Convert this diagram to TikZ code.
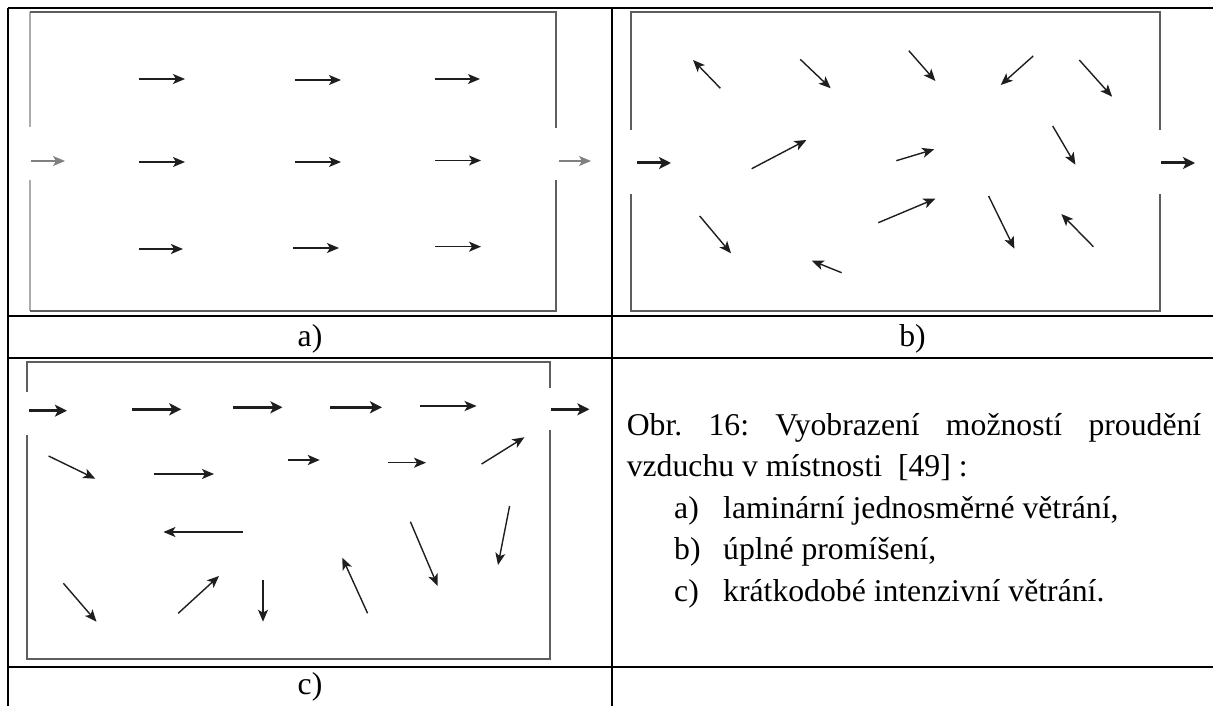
\documentclass[tikz,border=0pt]{standalone}
\usepackage{fontspec}
\setmainfont{Liberation Serif}
\usetikzlibrary{arrows.meta}
\definecolor{wallgray}{HTML}{5E5E5E}
\definecolor{walllight}{HTML}{ABABAB}
\definecolor{flowink}{HTML}{1E1E1E}
\frenchspacing

\begin{document}
\begin{tikzpicture}[
    x=1pt, y=-1pt,
    rule/.style={black, line width=2pt},
    wall/.style={wallgray, line width=2pt},
    flow/.style={-{Stealth[length=12pt, width=10pt, inset=3pt]}, flowink, line width=1.4pt},
    jet/.style={-{Stealth[length=12pt, width=12pt, inset=3pt]}, flowink, line width=3pt},
    tag/.style={font=\fontsize{31.7}{41.5}\selectfont, inner sep=0pt, anchor=base west}
  ]
    \useasboundingbox (0,0) rectangle (1213,706);

    % table
    \draw[rule] (8,8.3) -- (1213,8.3);
    \draw[rule] (8,316) -- (1213,316);
    \draw[rule] (8,357.7) -- (1213,357.7);
    \draw[rule] (8,666.7) -- (1213,666.7);
    \draw[rule] (8,8.3) -- (8,706);
    \draw[rule] (611.7,8.3) -- (611.7,706);

    % a) laminar
    \draw[walllight, line width=2pt] (29.6,127) -- (29.6,12);
    \draw[walllight, line width=2pt] (29.6,180) -- (29.6,310.7);
    \draw[wall] (29.6,12) -- (555.5,12) -- (555.5,128);
    \draw[wall] (29.6,310.7) -- (555.5,310.7) -- (555.5,180);
    \draw[flow, draw=gray] (31,161) -- (65,161);
    \draw[flow] (139,79) -- (185,79);
    \draw[flow] (295,80) -- (341,80);
    \draw[flow] (435,79) -- (480,79);
    \draw[flow] (139,162) -- (185,162);
    \draw[flow] (295,162) -- (341,162);
    \draw[flow] (435,160.5) -- (481,160.5);
    \draw[flow, line width=2.2pt] (139,249) -- (183,249);
    \draw[flow] (293,248) -- (339,248);
    \draw[flow] (435,246.7) -- (481,246.7);
    \draw[flow, draw=gray] (559,161) -- (591,161);
    \node[tag, anchor=base] (lbla) at (310,346) {a)};

    % b) full mixing
    \draw[wall] (631.3,130) -- (631.3,12) -- (1159.8,12) -- (1159.8,130);
    \draw[wall] (631.3,194) -- (631.3,310.7) -- (1159.8,310.7) -- (1159.8,194);
    \draw[jet] (637,163) -- (671,163);
    \draw[flow] (720.4,88.3) -- (693,60);
    \draw[flow] (800.2,59.3) -- (830.7,88.3);
    \draw[flow] (908.8,50.7) -- (935.4,81);
    \draw[flow] (1033.2,56) -- (1000.7,85);
    \draw[flow] (1079.3,60) -- (1112.1,96.7);
    \draw[flow] (1052.7,126) -- (1075.4,164.7);
    \draw[flow] (751.7,168.7) -- (806.4,140);
    \draw[flow] (896.3,160.7) -- (934.2,149.3);
    \draw[flow] (878.3,222.7) -- (935.4,198.7);
    \draw[flow] (988.6,196) -- (1014.4,248.7);
    \draw[flow] (1093.4,246.7) -- (1061.3,214);
    \draw[flow] (699.7,216) -- (731,253.3);
    \draw[flow] (841.6,272.7) -- (811.9,260.7);
    \draw[jet] (1161,163) -- (1195,163);
    \node[tag, anchor=base] (lblb) at (912.5,346) {b)};

    % c) short intensive
    \draw[wall] (27.2,391.7) -- (27.2,361.7) -- (549.7,361.7) -- (549.7,388);
    \draw[wall] (27.2,435) -- (27.2,659.3) -- (549.7,659.3) -- (549.7,430);
    \draw[jet] (29.2,410.7) -- (66.9,410.7);
    \draw[jet] (131.5,409.3) -- (181.3,409.3);
    \draw[jet] (233.4,407.3) -- (282.4,407.3);
    \draw[jet] (329.9,407.3) -- (382,407.3);
    \draw[flow, line width=2.2pt] (420.2,406) -- (476.6,406);
    \draw[jet, line width=2.4pt] (550.5,409.3) -- (589.4,409.3);
    \draw[flow] (48.6,456) -- (95.3,478.7);
    \draw[flow] (153.7,474) -- (214,474);
    \draw[flow, line width=2.2pt] (287.9,460) -- (319.8,460);
    \draw[flow] (388.3,462.7) -- (426,462.7);
    \draw[flow] (481.6,464) -- (524.4,437.3);
    \draw[flow] (243.1,532) -- (163.4,532);
    \draw[flow] (410.4,521.7) -- (437.7,586);
    \draw[flow] (509.6,506) -- (498,565);
    \draw[flow] (63.4,583.3) -- (96.5,621.7);
    \draw[flow] (178.2,613.3) -- (219,576);
    \draw[flow] (263,580) -- (263,621.7);
    \draw[flow] (367.6,613.3) -- (342.3,557.7);
    \node[tag, anchor=base] (lblc) at (310,694.5) {c)};

    % caption
    \node[tag] (cap1) at (626.6,435) {\makebox[574.4pt][s]{Obr. 16: Vyobrazení možností proudění}};
    \node[tag] (cap2) at (626.6,476.5) {vzduchu v místnosti~~[49] :};
    \node[tag] (marka) at (674,518) {a)};
    \node[tag] (itema) at (723,518) {laminární jednosměrné větrání,};
    \node[tag] (markb) at (674,559.5) {b)};
    \node[tag] (itemb) at (723,559.5) {úplné promíšení,};
    \node[tag] (markc) at (674,601) {c)};
    \node[tag] (itemc) at (723,601) {krátkodobé intenzivní větrání.};
  \end{tikzpicture}
\end{document}
